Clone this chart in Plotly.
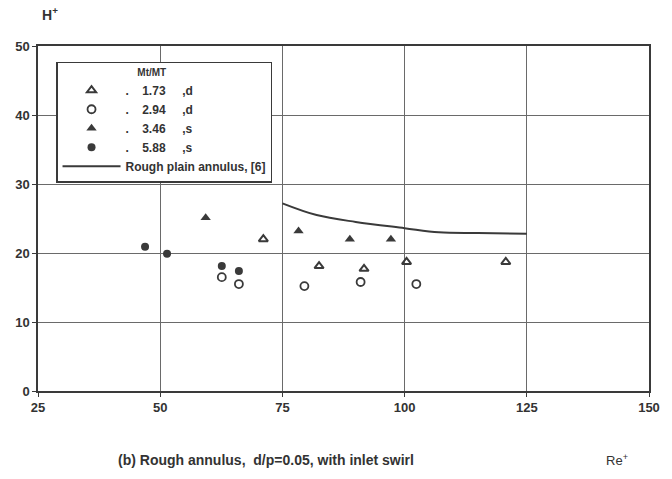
import plotly.graph_objects as go

# Data
tri_open_x = [71.1, 82.5, 91.7, 100.4, 120.7]
tri_open_y = [22.0, 18.1, 17.7, 18.7, 18.7]
circ_open_x = [62.6, 66.1, 79.5, 91.0, 102.4]
circ_open_y = [16.5, 15.5, 15.2, 15.8, 15.5]
tri_fill_x = [59.3, 78.3, 88.8, 97.2]
tri_fill_y = [25.1, 23.2, 22.0, 22.0]
circ_fill_x = [46.9, 51.4, 62.6, 66.1]
circ_fill_y = [20.9, 19.9, 18.1, 17.4]
curve_x = [75, 82, 90, 100, 107, 115, 125]
curve_y = [27.2, 25.5, 24.5, 23.6, 23.0, 22.9, 22.8]

legend_names = ["<b>.    1.73     ,d</b>", "<b>.    2.94     ,d</b>", "<b>.    3.46     ,s</b>",
                "<b>.    5.88     ,s</b>", "<b>Rough plain annulus, [6]</b>"]

ink = "#3a3a3a"
fig = go.Figure()
fig.add_trace(go.Scatter(x=tri_open_x, y=tri_open_y, mode="markers", name=legend_names[0],
                         marker=dict(symbol="triangle-up-open", size=8, color=ink, line=dict(width=2, color=ink))))
fig.add_trace(go.Scatter(x=circ_open_x, y=circ_open_y, mode="markers", name=legend_names[1],
                         marker=dict(symbol="circle-open", size=8, color=ink, line=dict(width=1.8, color=ink))))
fig.add_trace(go.Scatter(x=tri_fill_x, y=tri_fill_y, mode="markers", name=legend_names[2],
                         marker=dict(symbol="triangle-up", size=9, color=ink)))
fig.add_trace(go.Scatter(x=circ_fill_x, y=circ_fill_y, mode="markers", name=legend_names[3],
                         marker=dict(symbol="circle", size=8, color=ink)))
fig.add_trace(go.Scatter(x=curve_x, y=curve_y, mode="lines", name=legend_names[4],
                         line=dict(color=ink, width=2, shape="spline")))

axis_common = dict(showline=True, linecolor=ink, linewidth=1.5, mirror=True,
                   showgrid=True, gridcolor="#6a6a6a", gridwidth=1,
                   zeroline=False, ticks="outside", ticklen=4, tickcolor=ink,
                   tickfont=dict(family="Liberation Sans", size=13, color="#333333", weight="bold"))

fig.update_layout(
    width=672, height=479,
    margin=dict(l=38, r=12, t=46, b=88),
    paper_bgcolor="white", plot_bgcolor="white",
    font=dict(family="Liberation Sans", color="#333333"),
    xaxis=dict(range=[25, 150], dtick=25, tick0=25, **axis_common),
    yaxis=dict(range=[0, 50], dtick=10, **axis_common),
    showlegend=True,
    legend=dict(x=0.03, y=0.955, xanchor="left", yanchor="top",
                bgcolor="white", bordercolor=ink, borderwidth=1.2,
                font=dict(family="Liberation Sans", size=12, color="#333333"),
                title=dict(text="<b>                            Mt/MT</b>", font=dict(size=10)),
                itemwidth=58, tracegroupgap=0),
    annotations=[
        dict(text="<b>H<sup>+</sup></b>", xref="paper", yref="paper", x=0.02, y=1.06,
             xanchor="center", yanchor="bottom", showarrow=False, font=dict(size=14, color="#333333")),
        dict(text="<b>(b) Rough annulus,  d/p=0.05, with inlet swirl</b>", xref="paper", yref="paper",
             x=0.373, y=-0.2, xanchor="center", yanchor="middle", showarrow=False,
             font=dict(size=14, color="#333333")),
        dict(text="Re<sup>+</sup>", xref="paper", yref="paper", x=0.947, y=-0.2,
             xanchor="center", yanchor="middle", showarrow=False, font=dict(size=13, color="#333333")),
    ],
)
fig.write_html("out.html")
